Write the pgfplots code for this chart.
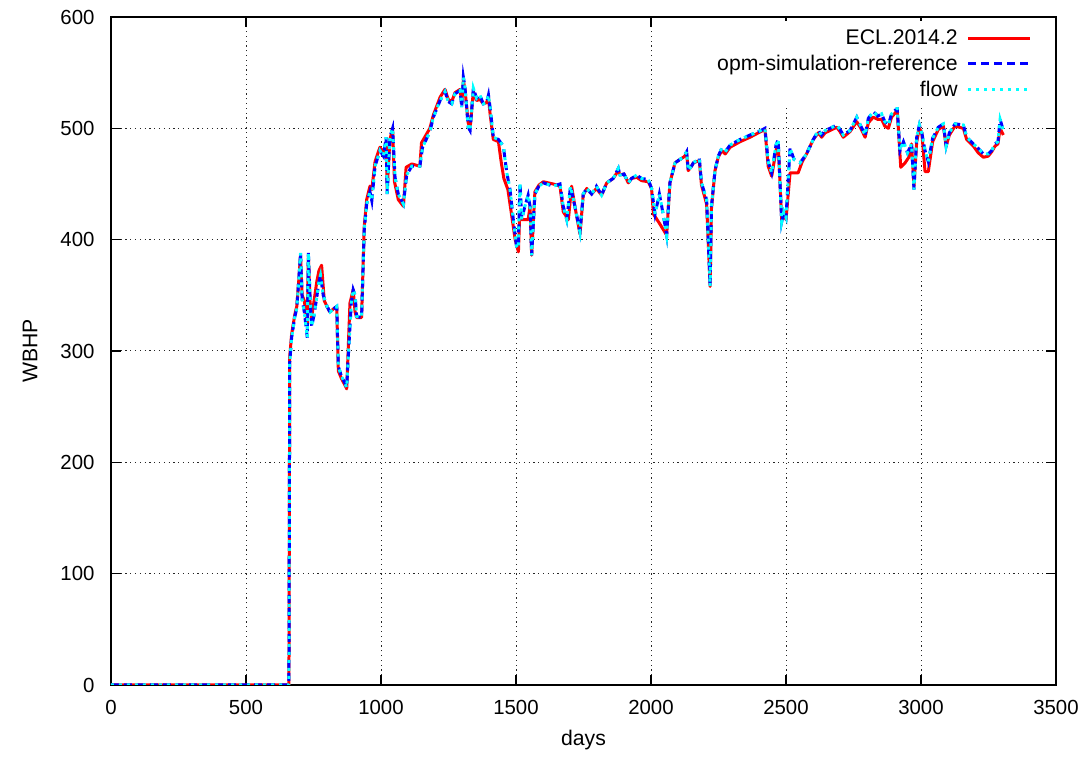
\documentclass[border=0pt]{standalone}
\usepackage{pgfplots}
\pgfplotsset{compat=1.18}
\usepackage{fontspec}
\setmainfont{Liberation Sans}
\definecolor{gpred}{RGB}{255,0,0}
\definecolor{gpblue}{RGB}{0,0,255}
\definecolor{gpcyan}{RGB}{0,255,255}
\pgfplotstableread{
x y
0 0
655 0
659 0
662 290
669 312
681 331
688 338
695 362
702 388
708 346
716 335
727 312
731 388
737 350
743 322
752 332
762 348
770 362
776 368
786 350
800 340
811 335
825 338
836 340
842 286
854 277
865 272
873 267
880 300
890 343
897 355
904 350
910 331
928 330
938 409
947 432
959 443
966 435
978 466
996 480
1009 475
1019 492
1023 441
1033 492
1043 500
1052 456
1064 441
1083 432
1095 458
1114 466
1144 466
1154 483
1181 497
1194 510
1219 525
1237 533
1249 524
1262 522
1274 531
1293 534
1299 519
1305 546
1311 537
1323 501
1330 498
1342 536
1354 527
1366 530
1379 522
1391 523
1398 530
1404 519
1416 492
1435 490
1453 484
1466 460
1478 445
1490 418
1502 394
1508 392
1515 451
1521 418
1533 430
1545 440
1552 430
1558 386
1570 441
1585 448
1601 451
1638 448
1663 450
1675 430
1688 418
1702 448
1718 430
1737 407
1749 441
1762 446
1780 441
1798 448
1817 440
1836 451
1860 455
1879 464
1885 458
1900 459
1916 451
1928 455
1947 458
1965 455
1990 454
2002 446
2015 423
2031 441
2045 423
2058 404
2070 451
2089 469
2107 472
2120 474
2132 479
2138 462
2150 466
2157 469
2179 473
2187 451
2206 436
2219 358
2224 430
2237 462
2249 475
2262 482
2275 479
2293 485
2330 490
2367 494
2398 497
2422 500
2434 470
2447 460
2463 485
2471 490
2484 416
2492 425
2500 420
2515 482
2530 472
2552 469
2576 477
2601 490
2620 498
2632 494
2645 498
2663 500
2688 503
2700 499
2712 494
2737 498
2762 510
2775 503
2793 494
2805 509
2823 515
2840 511
2854 513
2866 506
2879 503
2891 513
2912 518
2922 480
2935 488
2950 478
2965 486
2974 445
2984 492
2994 503
3003 496
3015 480
3027 470
3043 491
3064 501
3083 504
3093 484
3105 496
3126 504
3157 503
3169 492
3194 486
3212 482
3231 477
3249 477
3262 480
3274 486
3285 488
3293 508
3305 498
}\opmdata
\pgfplotstableread{
x y
0 0
655 0
659 0
662 295
669 315
681 333
688 340
695 362
702 386
708 350
716 345
727 325
731 386
737 345
743 330
752 345
762 362
770 372
780 377
790 345
800 340
811 335
825 338
836 340
842 282
854 275
865 270
873 266
885 343
897 355
904 335
910 330
928 330
938 412
947 436
959 448
966 445
978 470
996 483
1009 478
1019 488
1023 446
1033 490
1043 500
1050 452
1064 436
1083 430
1093 465
1114 468
1144 466
1150 487
1181 500
1194 512
1219 528
1237 535
1249 526
1262 524
1274 532
1293 535
1299 522
1305 543
1311 535
1323 505
1330 500
1342 533
1354 525
1366 526
1379 522
1391 523
1398 528
1404 513
1416 490
1435 488
1445 470
1455 455
1470 445
1485 420
1497 400
1509 389
1513 418
1545 418
1552 430
1558 386
1570 443
1585 449
1601 452
1638 450
1663 448
1675 425
1694 418
1706 448
1718 430
1737 405
1749 440
1762 446
1780 441
1798 446
1817 440
1836 451
1860 455
1879 462
1885 458
1900 459
1916 451
1928 455
1947 456
1965 453
1990 452
2002 446
2009 423
2033 414
2058 404
2070 451
2089 469
2107 472
2120 474
2132 477
2138 462
2150 466
2157 469
2179 471
2187 449
2206 432
2219 358
2224 428
2237 462
2249 474
2262 480
2275 477
2293 483
2330 488
2367 492
2398 496
2422 499
2434 466
2447 457
2463 480
2471 487
2484 418
2492 422
2500 418
2515 460
2545 460
2560 470
2576 477
2601 490
2620 496
2632 492
2645 496
2663 498
2688 501
2700 497
2712 492
2737 497
2762 506
2775 501
2793 492
2805 505
2823 510
2840 508
2854 508
2866 502
2879 500
2891 510
2912 516
2925 465
2941 469
2955 474
2965 486
2974 448
2984 488
2994 500
3003 496
3015 461
3027 461
3043 488
3064 499
3083 502
3093 484
3105 494
3126 502
3157 500
3169 490
3194 484
3212 478
3231 474
3249 475
3262 479
3274 484
3285 486
3293 500
3305 494
}\ecldata
\begin{document}
\begin{tikzpicture}[font=\fontsize{10.6}{12.5}\selectfont]
\begin{axis}[
  scale only axis,
  width=472.5pt, height=334pt,
  xmin=0, xmax=3500, ymin=0, ymax=600,
  xtick={0,500,...,3500}, ytick={0,100,...,600},
  /pgf/number format/assume math mode=true,
  /pgf/number format/1000 sep={},
  tick align=inside,
  major tick length=5pt,
  tick style={black, line width=0.6pt},
  axis line style={black, line width=0.6pt},
  grid=major,
  major grid style={black!85, line width=0.5pt, dash pattern=on 0.6pt off 1.8pt},
  tick label style={font=\fontsize{10.2}{12}\selectfont},
  xticklabel style={yshift=-4.2pt},
  yticklabel style={xshift=-4.7pt},
  xlabel={days}, ylabel={WBHP},
  every axis x label/.style={at={(axis description cs:0.5,-0.0823)}, anchor=center},
  every axis y label/.style={at={(axis description cs:-0.0857,0.5)}, anchor=center, rotate=90},
  legend plot pos=right,
  legend cell align=right,
  legend image code/.code={\draw[#1] (0pt,0pt) -- (31pt,0pt);},
  legend style={at={(rel axis cs:1,1)}, anchor=north east, xshift=-10pt, yshift=-2pt,
    draw=none, fill=white, inner sep=2pt, row sep=-0.2pt, column sep=2.5pt,
    font=\fontsize{10.6}{12.5}\selectfont},
]
\addplot[gpred, line width=1.5pt, line join=round] table[x=x,y=y]{\ecldata};
\addlegendentry{ECL.2014.2}
\addplot[gpblue, line width=1.5pt, dash pattern=on 4pt off 2.5pt] table[x=x,y=y]{\opmdata};
\addlegendentry{opm-simulation-reference}
\addplot[gpcyan, line width=1.5pt, dash pattern=on 1.5pt off 2.5pt] table[x=x,y=y]{\opmdata};
\addlegendentry{flow}
\end{axis}
\path ([shift={(-55.5pt,-34.5pt)}]current axis.south west) rectangle ([shift={(15pt,8.5pt)}]current axis.north east);
\end{tikzpicture}
\end{document}
